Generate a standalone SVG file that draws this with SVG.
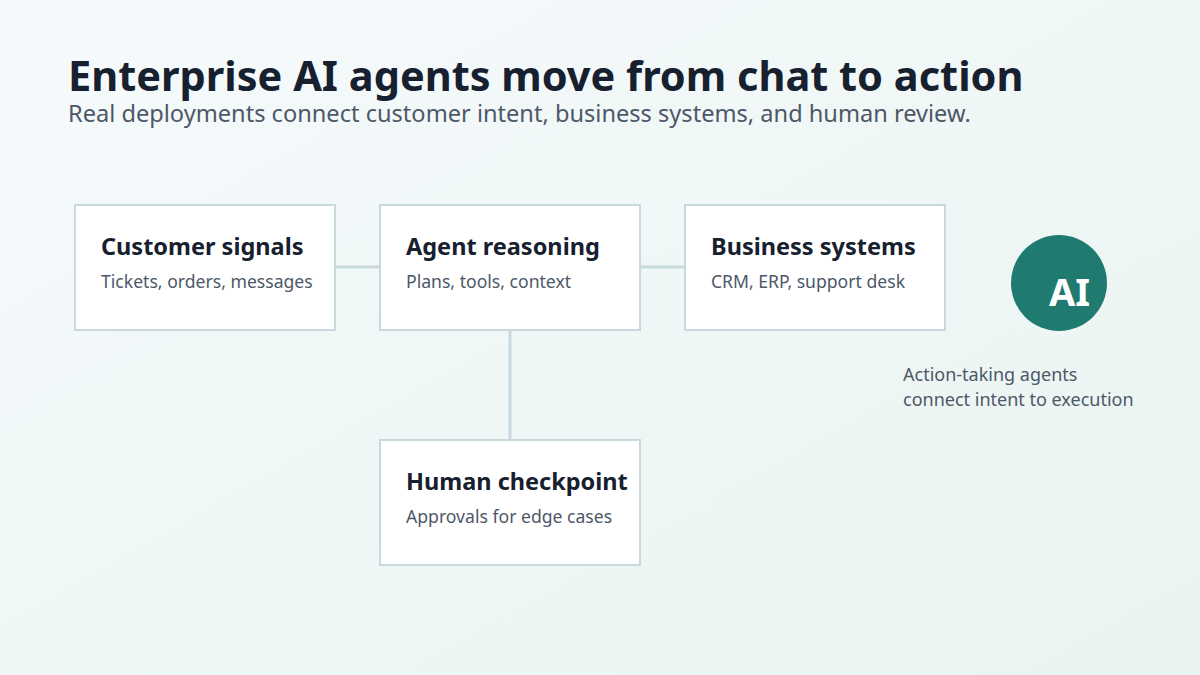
<svg xmlns="http://www.w3.org/2000/svg" width="1200" height="675" viewBox="0 0 1200 675">
<defs>
<linearGradient id="bg" x1="0" y1="0" x2="1" y2="1">
<stop offset="0" stop-color="#f6fafc"/>
<stop offset="1" stop-color="#e9f4f0"/>
</linearGradient>
</defs>
<style>
.box{fill:#ffffff;stroke:#c8d9e0;stroke-width:2}
.ttl{font-family:"Noto Sans","Open Sans",sans-serif;font-weight:700;font-size:23.5px;fill:#17202e}
.sub{font-family:"Noto Sans","Open Sans",sans-serif;font-size:17.6px;fill:#4d5868}
.cap{font-family:"Noto Sans","Open Sans",sans-serif;font-size:18px;fill:#4d5868}
.conn{stroke:#c8d9e0;stroke-width:3;fill:none}
</style>
<rect width="1200" height="675" fill="url(#bg)"/>
<text x="68" y="91" font-family="Noto Sans, Open Sans, sans-serif" font-weight="700" font-size="41.5" fill="#17202e">Enterprise AI agents move from chat to action</text>
<text x="68" y="122" font-family="Noto Sans, Open Sans, sans-serif" font-size="23.6" fill="#4d5868">Real deployments connect customer intent, business systems, and human review.</text>
<g id="connectors">
<line class="conn" x1="335" y1="267" x2="380" y2="267"/>
<line class="conn" x1="640" y1="267" x2="685" y2="267"/>
<line class="conn" x1="510" y1="330" x2="510" y2="440"/>
</g>
<g id="customer-signals">
<rect class="box" x="75" y="205" width="260" height="125"/>
<text class="ttl" x="101" y="255">Customer signals</text>
<text class="sub" x="101" y="288">Tickets, orders, messages</text>
</g>
<g id="agent-reasoning">
<rect class="box" x="380" y="205" width="260" height="125"/>
<text class="ttl" x="406" y="255">Agent reasoning</text>
<text class="sub" x="406" y="288">Plans, tools, context</text>
</g>
<g id="business-systems">
<rect class="box" x="685" y="205" width="260" height="125"/>
<text class="ttl" x="711" y="255">Business systems</text>
<text class="sub" x="711" y="288">CRM, ERP, support desk</text>
</g>
<g id="human-checkpoint">
<rect class="box" x="380" y="440" width="260" height="125"/>
<text class="ttl" x="406" y="490">Human checkpoint</text>
<text class="sub" x="406" y="523">Approvals for edge cases</text>
</g>
<g id="ai-badge">
<circle cx="1059" cy="283" r="48" fill="#1f7a70"/>
<text x="1049" y="306" font-family="Noto Sans, Open Sans, sans-serif" font-weight="700" font-size="38" fill="#ffffff">AI</text>
</g>
<g id="caption">
<text class="cap" x="903" y="381">Action-taking agents</text>
<text class="cap" x="903" y="406">connect intent to execution</text>
</g>
</svg>
